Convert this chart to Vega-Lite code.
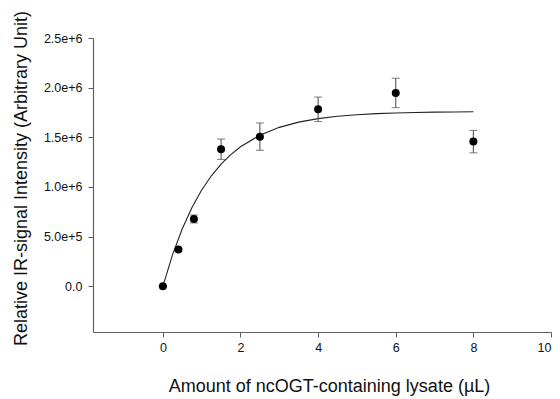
{
  "$schema": "https://vega.github.io/schema/vega-lite/v6.json",
  "autosize": "none",
  "width": 458,
  "height": 294,
  "padding": {"left": 93, "top": 38, "right": 9, "bottom": 67},
  "background": "white",
  "config": {
    "view": {"stroke": null},
    "font": "Liberation Sans",
    "axis": {
      "grid": false,
      "domainColor": "#606060",
      "tickColor": "#606060",
      "labelColor": "#111111",
      "titleColor": "#111111",
      "labelFont": "Liberation Sans",
      "titleFont": "Liberation Sans",
      "labelFontSize": 12.5,
      "titleFontSize": 18,
      "titleFontWeight": "normal",
      "tickSize": 5,
      "domainWidth": 1.2,
      "tickWidth": 1
    }
  },
  "datasets": {
    "points": [
      {"amount": 0, "signal": 0, "lo": -8000, "hi": 8000},
      {"amount": 0.4, "signal": 370000, "lo": 360000, "hi": 380000},
      {"amount": 0.8, "signal": 678000, "lo": 638000, "hi": 718000},
      {"amount": 1.5, "signal": 1380000, "lo": 1277000, "hi": 1483000},
      {"amount": 2.5, "signal": 1507000, "lo": 1369000, "hi": 1645000},
      {"amount": 4, "signal": 1782000, "lo": 1659000, "hi": 1905000},
      {"amount": 6, "signal": 1947000, "lo": 1799000, "hi": 2095000},
      {"amount": 8, "signal": 1457000, "lo": 1344000, "hi": 1570000}
    ],
    "fit": [
      {"amount": 0, "signal": 0},
      {"amount": 0.25, "signal": 319100},
      {"amount": 0.5, "signal": 580200},
      {"amount": 0.75, "signal": 794100},
      {"amount": 1.0, "signal": 969200},
      {"amount": 1.25, "signal": 1112500},
      {"amount": 1.5, "signal": 1229900},
      {"amount": 1.75, "signal": 1326000},
      {"amount": 2.0, "signal": 1404700},
      {"amount": 2.5, "signal": 1521800},
      {"amount": 3.0, "signal": 1600300},
      {"amount": 3.5, "signal": 1653000},
      {"amount": 4.0, "signal": 1688200},
      {"amount": 4.5, "signal": 1711900},
      {"amount": 5.0, "signal": 1727800},
      {"amount": 5.5, "signal": 1738400},
      {"amount": 6.0, "signal": 1745600},
      {"amount": 6.5, "signal": 1750300},
      {"amount": 7.0, "signal": 1753500},
      {"amount": 7.5, "signal": 1755600},
      {"amount": 8.0, "signal": 1757100}
    ]
  },
  "layer": [
    {
      "data": {"name": "fit"},
      "mark": {"type": "line", "color": "#222222", "strokeWidth": 1.1},
      "encoding": {
        "x": {
          "field": "amount", "type": "quantitative",
          "scale": {"domain": [-1.8, 10], "nice": false, "zero": false},
          "axis": {
            "values": [0, 2, 4, 6, 8, 10],
            "labelPadding": 4,
            "title": "Amount of ncOGT-containing lysate (µL)",
            "titlePadding": 24,
            "titleX": 236
          }
        },
        "y": {
          "field": "signal", "type": "quantitative",
          "scale": {"domain": [-460000, 2500000], "nice": false, "zero": false},
          "axis": {
            "values": [0, 500000, 1000000, 1500000, 2000000, 2500000],
            "labelExpr": "datum.value == 0 ? '0.0' : format(datum.value, '.1e')",
            "labelPadding": 6,
            "title": "Relative IR-signal Intensity (Arbitrary Unit)",
            "titlePadding": 13,
            "titleY": 140
          }
        }
      }
    },
    {
      "data": {"name": "points"},
      "mark": {"type": "rule", "color": "#555555", "strokeWidth": 1.1},
      "encoding": {
        "x": {"field": "amount", "type": "quantitative"},
        "y": {"field": "lo", "type": "quantitative"},
        "y2": {"field": "hi"}
      }
    },
    {
      "data": {"name": "points"},
      "mark": {"type": "tick", "orient": "horizontal", "color": "#555555", "size": 8, "thickness": 1.1},
      "encoding": {
        "x": {"field": "amount", "type": "quantitative"},
        "y": {"field": "lo", "type": "quantitative"}
      }
    },
    {
      "data": {"name": "points"},
      "mark": {"type": "tick", "orient": "horizontal", "color": "#555555", "size": 8, "thickness": 1.1},
      "encoding": {
        "x": {"field": "amount", "type": "quantitative"},
        "y": {"field": "hi", "type": "quantitative"}
      }
    },
    {
      "data": {"name": "points"},
      "mark": {"type": "point", "filled": true, "color": "black", "opacity": 1, "size": 64},
      "encoding": {
        "x": {"field": "amount", "type": "quantitative"},
        "y": {"field": "signal", "type": "quantitative"}
      }
    }
  ]
}
